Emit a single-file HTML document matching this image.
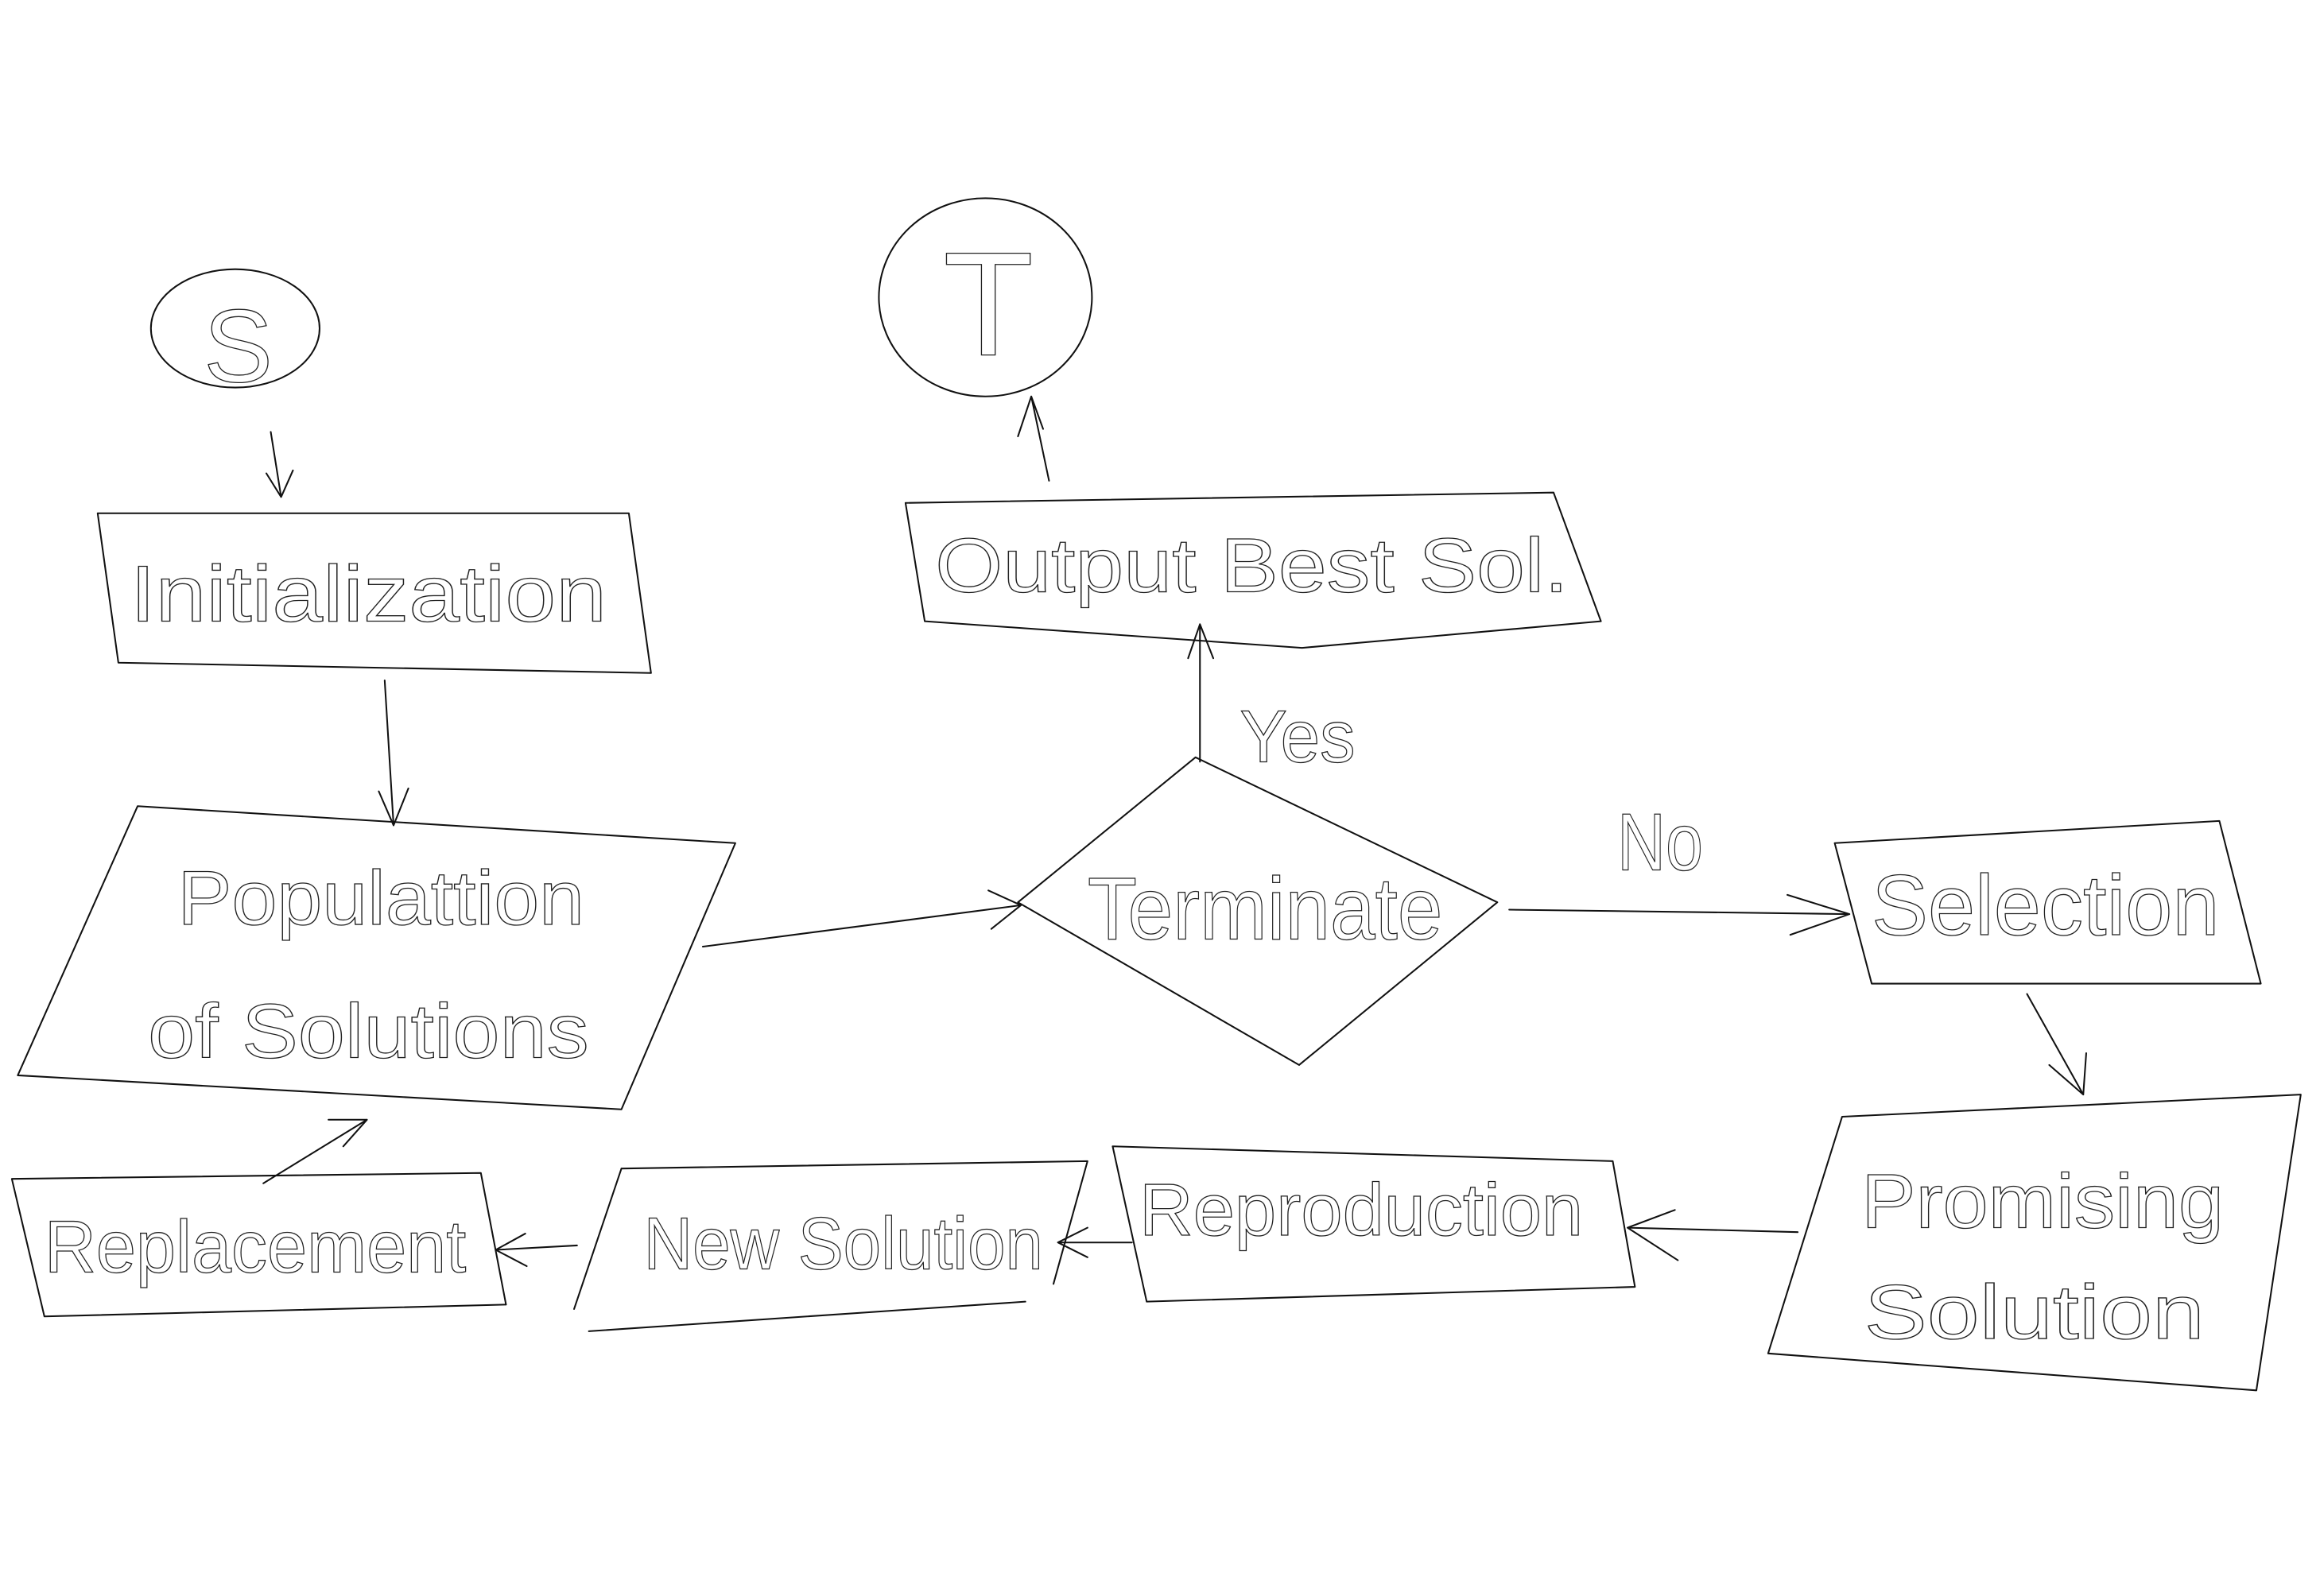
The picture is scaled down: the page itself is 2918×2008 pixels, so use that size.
<!DOCTYPE html>
<html><head><meta charset="utf-8"><style>
html,body{margin:0;padding:0;background:#fff;}
svg{display:block;}
text{font-family:"Liberation Sans",sans-serif;fill:none;stroke:#222;stroke-width:0.7;font-weight:normal;}
</style></head><body>
<svg width="2918" height="2008" viewBox="0 0 1568 1079" xmlns="http://www.w3.org/2000/svg">
<g fill="none" stroke="#111" stroke-width="1.1" stroke-linecap="round" stroke-linejoin="round">
<ellipse cx="159" cy="222" rx="57" ry="40"/>
<ellipse cx="666" cy="201" rx="72" ry="67"/>
<path d="M183 292 L190 336 M180 320 L190 336 L198 318"/>
<path d="M66 347 L425 347 L440 455 L80 448 Z"/>
<path d="M612 340 L1050 333 L1082 420 L880 438 L625 420 Z"/>
<path d="M709 325 L697 268 M688 295 L697 268 L705 290"/>
<path d="M811 515 L811 422 M803 445 L811 422 L820 445"/>
<path d="M808 512 L1012 610 L878 720 L688 610 Z"/>
<path d="M475 640 L690 612 M668 602 L690 612 L670 628"/>
<path d="M1020 615 L1250 618 M1208 605 L1250 618 L1210 632"/>
<path d="M1240 570 L1500 555 L1528 665 L1265 665 Z"/>
<path d="M1370 672 L1408 740 M1385 720 L1408 740 L1410 712"/>
<path d="M1245 755 L1555 740 L1525 940 L1195 915 Z"/>
<path d="M1215 833 L1100 830 M1132 818 L1100 830 L1134 852"/>
<path d="M752 775 L1090 785 L1105 870 L775 880 Z"/>
<path d="M765 840 L715 840 M735 830 L715 840 L735 850"/>
<path d="M420 790 L735 785 L712 868 M693 880 L398 900 M420 790 L388 885"/>
<path d="M390 842 L335 845 M355 834 L335 845 L356 856"/>
<path d="M8 797 L325 793 L342 882 L30 890 Z"/>
<path d="M178 800 L248 757 M222 757 L248 757 L232 775"/>
<path d="M260 460 L266 558 M256 535 L266 558 L276 533"/>
<path d="M93 545 L497 570 L420 750 L12 727 Z"/>
</g>
<g>
<text x="161" y="258" font-size="70" text-anchor="middle">S</text>
<text x="668" y="240" font-size="100" text-anchor="middle">T</text>
<text x="88" y="420" font-size="54" textLength="322" lengthAdjust="spacingAndGlyphs">Initialization</text>
<text x="632" y="400" font-size="52" textLength="428" lengthAdjust="spacingAndGlyphs">Output  Best Sol.</text>
<text x="838" y="515" font-size="50" textLength="78" lengthAdjust="spacingAndGlyphs">Yes</text>
<text x="735" y="635" font-size="60" textLength="240" lengthAdjust="spacingAndGlyphs">Terminate</text>
<text x="1093" y="588" font-size="55" textLength="58" lengthAdjust="spacingAndGlyphs">No</text>
<text x="1265" y="632" font-size="58" textLength="235" lengthAdjust="spacingAndGlyphs">Selection</text>
<text x="1258" y="830" font-size="52" textLength="245" lengthAdjust="spacingAndGlyphs">Promising</text>
<text x="1260" y="905" font-size="52" textLength="230" lengthAdjust="spacingAndGlyphs">Solution</text>
<text x="770" y="835" font-size="50" textLength="300" lengthAdjust="spacingAndGlyphs">Reproduction</text>
<text x="435" y="858" font-size="50" textLength="270" lengthAdjust="spacingAndGlyphs">New Solution</text>
<text x="30" y="860" font-size="50" textLength="285" lengthAdjust="spacingAndGlyphs">Replacement</text>
<text x="120" y="625" font-size="52" textLength="275" lengthAdjust="spacingAndGlyphs">Populattion</text>
<text x="100" y="715" font-size="52" textLength="298" lengthAdjust="spacingAndGlyphs">of Solutions</text>
</g>
</svg>
</body></html>
